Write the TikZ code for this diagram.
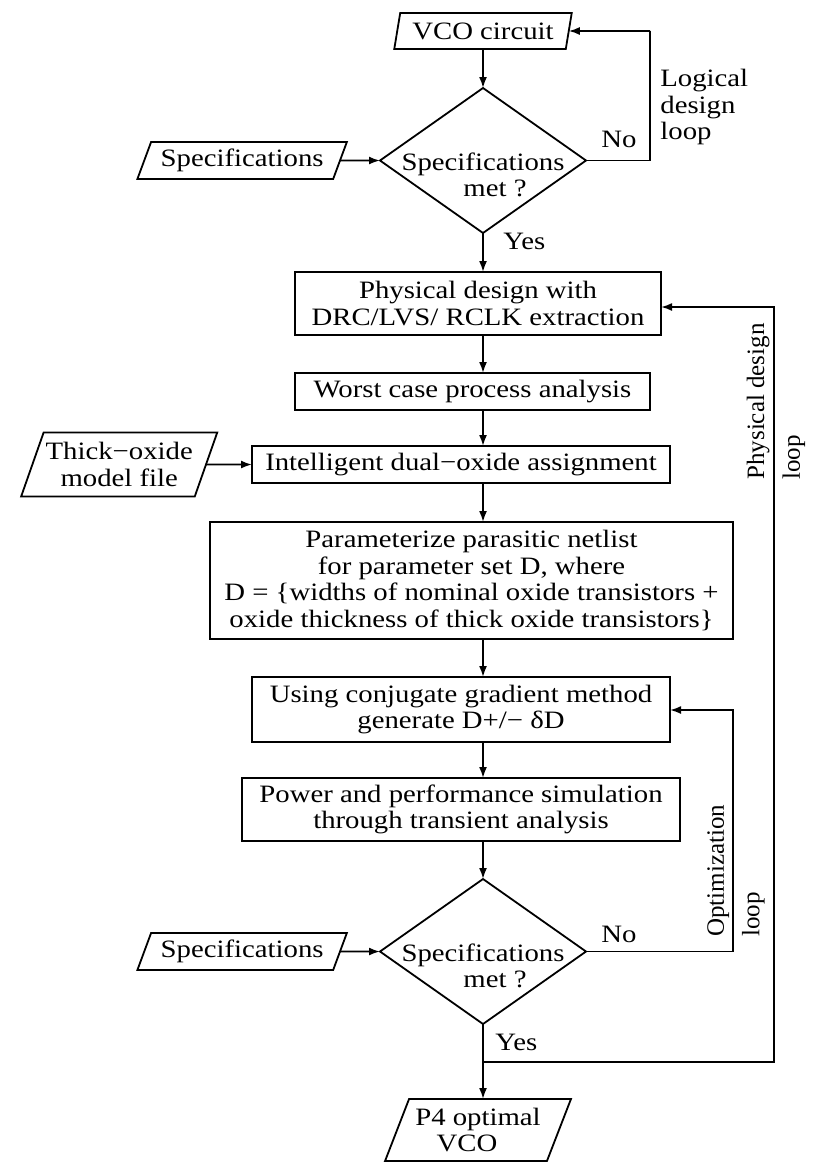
\documentclass[tikz,border=0pt]{standalone}
\usepackage{fontspec}
\setmainfont{Liberation Serif}[FakeStretch=1.15]
\newfontfamily\loopfont{Liberation Serif}
\usepackage{tikz}
\usetikzlibrary{shapes, arrows.meta, positioning}

\begin{document}
\begin{tikzpicture}[x=0.5pt, y=-0.5pt,
  box/.style = {draw, rectangle, align=center, inner sep=0pt, outer sep=0pt, line width=0.9pt, font=\fontsize{12.5}{13.3}\selectfont},
  io/.style = {draw, trapezium, trapezium left angle=65, trapezium right angle=115, trapezium stretches, align=center, inner sep=1pt, outer sep=0pt, line width=0.9pt, font=\fontsize{12.5}{13.3}\selectfont},
  dec/.style = {draw, diamond, minimum width=103pt, minimum height=72.5pt, inner sep=0pt, outer sep=0pt, line width=0.9pt},
  lbl/.style = {inner sep=0pt, font=\fontsize{12.5}{13.3}\selectfont},
  rlbl/.style = {inner sep=0pt, rotate=90, align=left, anchor=west, font=\loopfont\fontsize{12.5}{13.3}\selectfont},
  arr/.style = {-{Latex[length=5.5pt,width=4pt]}, line width=0.9pt}]
\useasboundingbox (0,0) rectangle (819,1162);

\node[io, trapezium left angle=76, trapezium right angle=104, minimum width=89pt, minimum height=18pt] (vco) at (483,31) {VCO circuit};
\node[dec] (d1) [below=19.5pt of vco] {};
\node[lbl, align=center] (d1t) at ([yshift=-7.25pt]d1) {Specifications\\\hspace*{12pt}met ?};
\node[box, minimum width=183pt, minimum height=31.5pt] (phys) [below=19.5pt of d1, xshift=-2.5pt] {Physical design with\\DRC/LVS/ RCLK extraction};
\node[box, minimum width=177.5pt, minimum height=18.5pt] (worst) [below=19pt of phys, xshift=-2.75pt] {Worst case process analysis};
\node[box, minimum width=209pt, minimum height=18.5pt] (dual) [below=18pt of worst, xshift=-5.75pt] {Intelligent dual−oxide assignment};
\node[box, minimum width=261.5pt, minimum height=58.5pt] (param) [below=19.5pt of dual, xshift=5.25pt] {Parameterize parasitic netlist\\for parameter set D, where\\D = \{widths of nominal oxide transistors +\\oxide thickness of thick oxide transistors\}};
\node[box, minimum width=209pt, minimum height=32.5pt] (grad) [below=19pt of param, xshift=-5.25pt] {Using conjugate gradient method\\generate D+/− δD};
\node[box, minimum width=219pt, minimum height=31.5pt] (power) [below=18pt of grad] {Power and performance simulation\\through transient analysis};
\node[dec] (d2) [below=19pt of power, xshift=11pt] {};
\node[lbl, align=center] (d2t) at ([yshift=-7.25pt]d2) {Specifications\\\hspace*{12pt}met ?};
\node[io, minimum width=93.5pt, minimum height=31pt] (p4) [below=37.5pt of d2, xshift=-2.5pt] {P4 optimal\\VCO\hspace*{11pt}};

\node[io, minimum width=105pt, minimum height=18.5pt] (spec1) [left=20pt of d1] {Specifications};
\node[io, minimum width=105pt, minimum height=18.5pt] (spec2) [left=20pt of d2] {Specifications};
\node[io, minimum width=96pt, minimum height=32pt] (thick) [left=23pt of dual] {Thick−oxide\\model file};

\node[lbl] (no1) [above right=6pt and 7.5pt of d1.east] {No};
\node[lbl] (yes1) [below right=0pt and 10pt of d1.south] {Yes};
\node[lbl] (no2) [above right=4pt and 7.5pt of d2.east] {No};
\node[lbl] (yes2) [below right=5pt and 6pt of d2.south] {Yes};
\node[lbl, align=left, anchor=west] (ldl) at (660,107) {Logical\\design\\loop};
\node[rlbl] (pdl) at (776,480) {Physical design\\[4.5pt]loop};
\node[rlbl] (odl) at (736,937) {Optimization\\[4.5pt]loop};

\coordinate (ll) at (650,31);
\coordinate (ol) at (733,710);
\coordinate (pl) at (774,307);
\coordinate (j2) at (483,1062);

\draw[arr] (vco) -- (d1);
\draw[arr] (d1) -- (d1 |- phys.north);
\draw[arr] (phys.south -| d1) -- (worst.north -| d1);
\draw[arr] (worst.south -| d1) -- (dual.north -| d1);
\draw[arr] (dual.south -| d1) -- (param.north -| d1);
\draw[arr] (param.south -| d1) -- (grad.north -| d1);
\draw[arr] (grad.south -| d1) -- (power.north -| d1);
\draw[arr] (power.south -| d1) -- (d2);
\draw[arr] (d2) -- (d2 |- p4.north);
\draw[arr] (spec1) -- (d1);
\draw[arr] (spec2) -- (d2);
\draw[arr] (thick) -- (dual);
\draw[arr] (d1) -| (ll) |- (vco);
\draw[arr] (d2) -| (ol) -- (ol -| grad.east);
\draw[arr] (j2) -| (pl) -- (pl -| phys.east);
\end{tikzpicture}
\end{document}
